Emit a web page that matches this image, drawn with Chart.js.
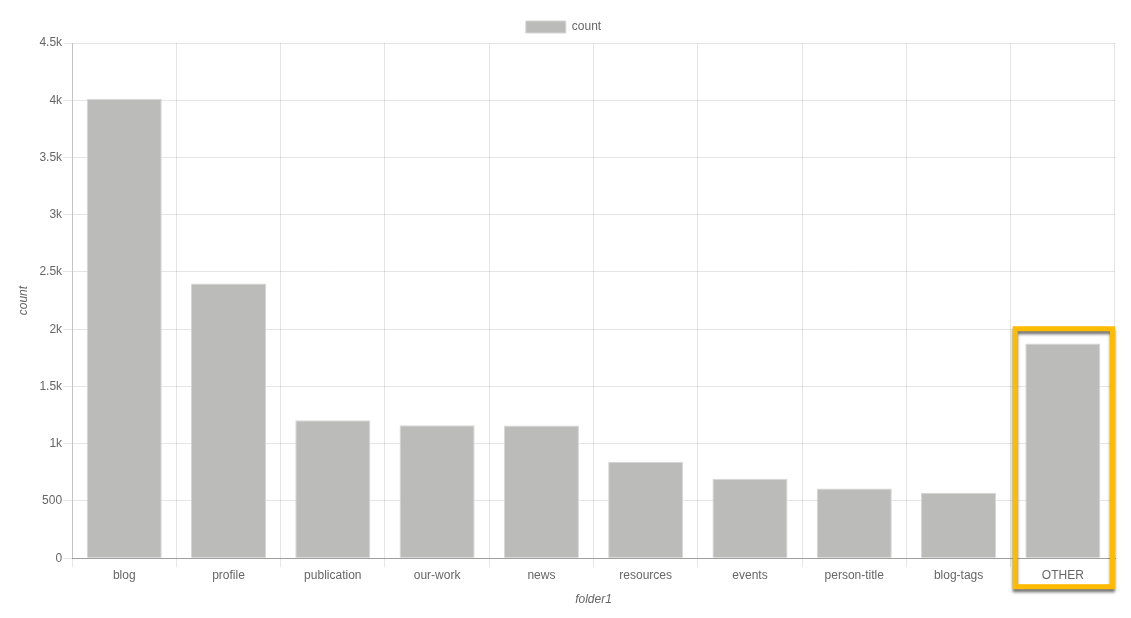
<!DOCTYPE html>
<html>
<head>
<meta charset="utf-8">
<script src="https://cdn.jsdelivr.net/npm/chart.js@4/dist/chart.umd.min.js"></script>
<style>
html,body{margin:0;padding:0;background:#fff;}
#wrap{width:1131px;height:618px;position:relative;}
</style>
</head>
<body>
<div id="wrap"><canvas id="c" width="1131" height="618"></canvas></div>
<script>
const categories = ["blog","profile","publication","our-work","news","resources","events","person-title","blog-tags","OTHER"];
const counts = [4010, 2400, 1205, 1162, 1158, 842, 693, 609, 571, 1876];
const highlightCategory = "OTHER";
const highlightValue = 2000;

const highlightPlugin = {
  id: 'highlight',
  afterDraw(chart) {
    const x = chart.scales.x, y = chart.scales.y;
    const idx = categories.indexOf(highlightCategory);
    const cx = x.getPixelForValue(idx);
    const catW = x.width / categories.length;
    const left = cx - catW / 2 + 4.5;
    const right = cx + catW / 2 - 2.5;
    const top = y.getPixelForValue(highlightValue) - 0.5;
    const bottom = y.bottom + 28.5;
    const ctx = chart.ctx;
    ctx.save();
    ctx.shadowColor = 'rgba(0,0,0,0.55)';
    ctx.shadowBlur = 3;
    ctx.shadowOffsetX = 0;
    ctx.shadowOffsetY = 3;
    ctx.strokeStyle = '#FFBB00';
    ctx.lineWidth = 5;
    ctx.strokeRect(left, top, right - left, bottom - top);
    ctx.restore();
  }
};

const FONT = 'Liberation Sans, Arial, sans-serif';

new Chart(document.getElementById('c'), {
  type: 'bar',
  data: {
    labels: categories,
    datasets: [{
      label: 'count',
      data: counts,
      backgroundColor: '#bbbbb9',
      borderColor: '#d6d6d6',
      borderWidth: 1
    }]
  },
  options: {
    responsive: false,
    animation: false,
    layout: { padding: { top: 11, right: 16, left: 12, bottom: 7 } },
    plugins: {
      legend: {
        labels: { color: '#666', font: { family: FONT, size: 12 }, boxWidth: 40, boxHeight: 12 }
      },
      tooltip: { enabled: false }
    },
    scales: {
      x: {
        z: 1,
        grid: { color: 'rgba(0,0,0,0.1)', tickLength: 9 },
        border: { color: 'rgba(0,0,0,0.3)' },
        ticks: { color: '#666', padding: 1, font: { family: FONT, size: 12 } },
        title: { display: true, text: 'folder1', color: '#666', padding: { top: 9, bottom: 4 }, font: { family: FONT, size: 12, style: 'italic' } }
      },
      y: {
        z: 1,
        min: 0, max: 4500,
        grid: { color: 'rgba(0,0,0,0.1)', tickLength: 9 },
        border: { color: 'rgba(0,0,0,0.15)' },
        ticks: {
          stepSize: 500,
          padding: 1,
          color: '#666',
          font: { family: FONT, size: 12 },
          callback: v => v >= 1000 ? (v / 1000) + 'k' : v
        },
        title: { display: true, text: 'count', color: '#666', padding: { top: 4, bottom: 8 }, font: { family: FONT, size: 12, style: 'italic' } }
      }
    }
  },
  plugins: [highlightPlugin]
});
</script>
</body>
</html>
